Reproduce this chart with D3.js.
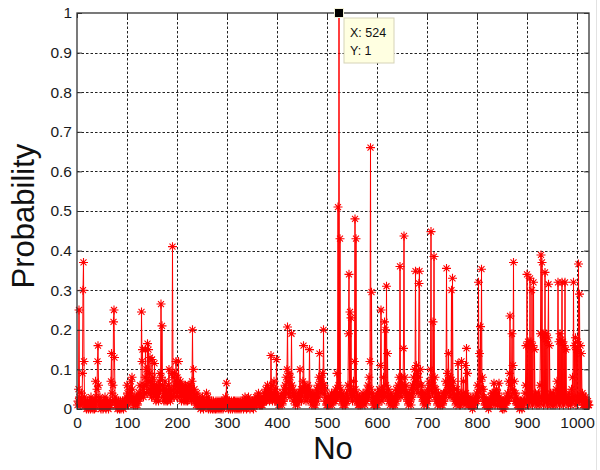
<!DOCTYPE html>
<html><head><meta charset="utf-8">
<script src="https://cdn.jsdelivr.net/npm/d3@7/dist/d3.min.js"></script>
<style>body{margin:0;background:#fff}svg{display:block}</style>
</head><body>
<svg id="chart" width="600" height="470"></svg>
<script>
// Probability for No = 1 .. 1024 (32 values per row)
const probability = [
.01,.02,.05,.25,.03,.01,.02,.01,.04,.02,.09,.30,.37,.12,.03,.01,.02,.01,0,.01,.02,.01,0,.01,.02,.01,0,.03,.01,.02,.01,0,
.01,.02,0,.01,.07,.02,.03,.05,.12,.16,.06,.02,.01,.03,.01,0,.01,.02,.01,0,.01,.02,.01,.03,.01,0,.02,.01,.02,.01,0,.01,
.01,.02,.01,.07,.14,.04,.02,.06,.22,.25,.13,.03,.02,.01,.02,.01,0,.01,.02,.01,0,.01,.02,0,.01,.01,.02,.01,0,.01,.02,.01,
.01,.02,.03,.06,.04,.02,.01,.03,.05,.02,.04,.07,.03,.08,.05,.02,.01,.03,.02,.01,.02,.01,.03,.02,.01,.03,.02,.04,.03,.06,.04,.03,
.245,.12,.15,.05,.03,.06,.04,.08,.15,.06,.1,.04,.165,.07,.15,.05,.09,.13,.04,.07,.03,.125,.05,.08,.04,.06,.115,.03,.05,.02,.04,.06,
.03,.05,.02,.07,.04,.09,.05,.265,.08,.21,.06,.03,.05,.02,.04,.07,.03,.02,.05,.03,.02,.04,.06,.10,.03,.05,.02,.04,.03,.09,.41,.08,
.05,.03,.09,.04,.06,.12,.07,.03,.08,.05,.12,.04,.06,.03,.07,.05,.02,.06,.04,.03,.05,.02,.04,.03,.06,.02,.03,.05,.02,.04,.03,.06,
.04,.06,.03,.05,.02,.07,.20,.04,.10,.03,.05,.02,.03,.01,.02,.04,.01,.02,.01,.03,.01,.02,0,.01,.02,.01,.03,.01,0,.02,.01,.02,
.01,.02,.04,.02,.01,.03,0,.01,.02,.01,0,.01,.02,.01,0,.01,.02,0,.01,.01,0,.02,.01,0,.01,.02,.01,0,.01,.02,.01,0,
.01,.02,.01,0,.01,.02,.01,.02,.03,.02,.065,.02,.01,.02,0,.01,.02,.01,0,.01,.02,.01,0,.01,.02,.01,.02,0,.01,.02,.01,0,
.01,.02,.01,0,.01,.02,.01,0,.01,.01,.02,.01,0,.01,.02,.03,.01,.02,0,.01,.02,.01,.03,.01,.02,0,.01,.02,.01,.01,.02,.01,
0,.01,.02,.01,.02,.03,.01,.02,.03,.02,.04,.02,.01,.02,.01,.03,.01,.02,.01,.02,.03,.02,.04,.02,.05,.03,.02,.04,.06,.03,.05,.04,
.02,.05,.03,.135,.03,.06,.02,.04,.03,.07,.03,.02,.05,.03,.125,.04,.02,.03,.01,.02,.02,.01,.03,.02,.03,.01,.02,.04,.02,.05,.03,.06,
.04,.08,.05,.10,.207,.07,.04,.09,.06,.03,.08,.05,.19,.06,.04,.05,.02,.04,.03,.03,.01,.02,.02,.03,.01,.03,.04,.02,.04,.10,.03,.05,
.02,.05,.04,.07,.16,.05,.06,.03,.05,.02,.04,.05,.03,.06,.04,.05,.15,.04,.02,.04,.03,.01,.03,.02,.03,.01,.02,.04,.01,.03,.05,.02,
.04,.06,.03,.08,.14,.05,.07,.04,.08,.05,.09,.06,.20,.06,.04,.05,.02,.03,.01,.02,.01,.03,.01,.02,.02,.01,.03,.02,.04,.01,.03,.02,
.03,.02,.04,.02,.05,.03,.04,.09,.03,.51,.06,1,.04,.43,.03,.05,.02,.04,.01,.03,.02,.01,.02,.03,.01,.02,.04,.02,.03,.06,.19,.34,
.05,.245,.04,.23,.03,.05,.02,.04,.07,.03,.12,.48,.05,.43,.04,.02,.03,.01,.02,.01,.03,.02,.01,.03,.02,.01,.02,.04,.02,.03,.02,.01,
.03,.02,.04,.03,.05,.06,.03,.08,.04,.12,.66,.05,.295,.04,.02,.03,.01,.02,.01,.03,.02,.01,.03,.02,.01,.04,.02,.05,.03,.04,.11,.25,
.04,.02,.05,.03,.08,.04,.22,.03,.20,.06,.31,.04,.14,.03,.05,.02,.03,.01,.02,.04,.02,.03,.01,.02,.01,.03,.02,.01,.03,.05,.02,.04,
.03,.06,.04,.08,.05,.36,.06,.03,.08,.04,.06,.05,.153,.437,.05,.08,.04,.06,.03,.04,.02,.03,.01,.02,.04,.02,.03,.01,.05,.03,.06,.04,
.08,.05,.1,.06,.348,.07,.11,.05,.09,.04,.08,.317,.348,.06,.1,.04,.06,.03,.04,.02,.03,.01,.02,.04,.02,.03,.01,.02,.05,.02,.04,.07,
.03,.06,.1,.448,.05,.08,.04,.22,.06,.385,.05,.08,.03,.05,.02,.03,.01,.02,.04,.02,.03,.01,.02,.01,.02,.03,.01,.02,.04,.02,.04,.03,
.07,.04,.355,.06,.09,.05,.14,.04,.07,.03,.08,.05,.30,.06,.33,.04,.07,.03,.05,.02,.03,.01,.02,.05,.02,.115,.03,.04,.01,.02,.01,.02,
.12,.03,.02,.04,.07,.02,.03,.01,.11,.04,.153,.02,.09,.03,.01,.02,.01,.02,.01,.03,.01,.02,0,.01,.01,.02,.01,.02,.03,.02,.04,.02,
.06,.03,.32,.05,.14,.04,.208,.07,.353,.05,.08,.03,.05,.02,.03,.01,.02,.01,.02,.01,.01,.02,0,.01,.01,.02,.01,.03,.02,.04,.02,.04,
.02,.065,.03,.01,.04,.02,.05,.03,.01,.04,.02,.065,.03,.01,.02,.02,.01,.02,0,.01,.02,0,.01,.02,.01,.02,.03,.02,.04,.02,.07,.03,
.09,.235,.06,.03,.07,.19,.05,.11,.37,.04,.07,.02,.04,.02,.03,.01,.02,.01,.01,.02,0,.01,.02,.01,.02,0,.01,.02,.01,.02,.02,.04,
.06,.16,.02,.34,.03,.17,.01,.16,.02,.33,.03,.17,.02,.30,.01,.16,.32,.03,.15,.02,.04,.02,.03,.01,.02,.02,.04,.01,.03,.06,.19,.389,
.02,.37,.03,.19,.01,.18,.02,.345,.03,.19,.02,.17,.01,.18,.315,.02,.16,.03,.04,.01,.03,.02,.02,.01,.04,.02,.03,.01,.02,.05,.02,.07,
.03,.32,.02,.17,.01,.19,.02,.175,.03,.32,.02,.17,.01,.16,.02,.32,.03,.15,.02,.03,.02,.02,.01,.04,.02,.03,.01,.02,.05,.02,.08,.03,
.32,.02,.16,.03,.18,.01,.15,.02,.17,.03,.366,.02,.29,.03,.16,.02,.14,.03,.04,.01,.03,.01,.02,.01,.03,.01,.02,.01,.01,.02,.01,.01
];
const xTicks = [0,100,200,300,400,500,600,700,800,900,1000];
const yTicks = [0,0.1,0.2,0.3,0.4,0.5,0.6,0.7,0.8,0.9,1];
const xDomain = [0,1024];
const yDomain = [0,1];
const xLabel = "No";
const yLabel = "Probability";
const tipNo = 524;
const tipProb = 1;

const svg = d3.select("#chart");
const L = 77, R = 589, T = 13, B = 409;
const x = d3.scaleLinear().domain(xDomain).range([L, R]);
const y = d3.scaleLinear().domain(yDomain).range([B, T]);
const font = "'Liberation Sans', Arial, Helvetica, sans-serif";

svg.append("rect").attr("width",600).attr("height",470).attr("fill","#fff");
svg.append("line").attr("x1",596.5).attr("x2",596.5).attr("y1",0).attr("y2",470)
  .attr("stroke","#e2e2e2").attr("stroke-width",1);

// grid
const grid = svg.append("g").attr("stroke","#222").attr("stroke-width",1).attr("stroke-dasharray","2.5,2");
grid.selectAll(".gx").data(xTicks.filter(d=>d>0)).join("line")
  .attr("x1",d=>Math.round(x(d))+0.5).attr("x2",d=>Math.round(x(d))+0.5).attr("y1",T).attr("y2",B);
grid.selectAll(".gy").data(yTicks.filter(d=>d>0&&d<1)).join("line")
  .attr("y1",d=>Math.round(y(d))+0.5).attr("y2",d=>Math.round(y(d))+0.5).attr("x1",L).attr("x2",R);

// data
const pts = probability.map((p,i)=>({no:i+1,p}));
svg.append("path").datum(pts)
  .attr("fill","none").attr("stroke","#ff0000").attr("stroke-width",1)
  .attr("d", d3.line().x(d=>x(d.no)).y(d=>y(d.p)));
const r = 4.5, rd = 3;
const star = `M${-r},0H${r}M0,${-r}V${r}M${-rd},${-rd}L${rd},${rd}M${-rd},${rd}L${rd},${-rd}`;
svg.append("g").attr("stroke","#ff0000").attr("stroke-width",1.1).attr("fill","none")
  .selectAll("path").data(pts).join("path")
  .attr("transform",d=>`translate(${x(d.no)},${y(d.p)})`).attr("d",star);

// axes
const fmt = d3.format("~g");
function styleAxis(g){
  g.select(".domain").remove();
  g.selectAll(".tick line").attr("stroke","#333");
  g.selectAll("text").attr("font-family",font).attr("font-size",15.5).attr("fill","#1a1a1a");
}
svg.append("g").attr("transform",`translate(0,${B})`)
  .call(d3.axisBottom(x).tickValues(xTicks).tickFormat(fmt).tickSizeInner(-5).tickSizeOuter(0).tickPadding(8))
  .call(styleAxis);
svg.append("g").attr("transform",`translate(0,${T})`)
  .call(d3.axisTop(x).tickValues(xTicks).tickFormat("").tickSizeInner(-5).tickSizeOuter(0))
  .call(styleAxis);
svg.append("g").attr("transform",`translate(${L},0)`)
  .call(d3.axisLeft(y).tickValues(yTicks).tickFormat(fmt).tickSizeInner(-5).tickSizeOuter(0).tickPadding(5))
  .call(styleAxis);
svg.append("g").attr("transform",`translate(${R},0)`)
  .call(d3.axisRight(y).tickValues(yTicks).tickFormat("").tickSizeInner(-5).tickSizeOuter(0))
  .call(styleAxis);
svg.append("rect").attr("x",L).attr("y",T).attr("width",R-L).attr("height",B-T)
  .attr("fill","none").attr("stroke","#333").attr("stroke-width",1.3);

// labels
svg.append("text").attr("x",(L+R)/2).attr("y",459).attr("text-anchor","middle")
  .attr("font-family",font).attr("font-size",31).attr("fill","#111").text(xLabel);
svg.append("text").attr("transform",`translate(34,216) rotate(-90)`).attr("text-anchor","middle")
  .attr("font-family",font).attr("font-size",31).attr("fill","#111").text(yLabel);

// data tip
const tx = x(tipNo), ty = y(tipProb);
svg.append("rect").attr("x",tx+5).attr("y",ty+5).attr("width",50).attr("height",45)
  .attr("fill","#ffffe1").attr("stroke","#d6d3b8").attr("stroke-width",1);
svg.append("rect").attr("x",tx-4.5).attr("y",ty-4.5).attr("width",9).attr("height",9)
  .attr("fill","#000").attr("stroke","#f4f2d8").attr("stroke-width",1);
const tip = svg.append("g").attr("font-family",font).attr("font-size",12.5).attr("fill","#111");
tip.append("text").attr("x",tx+11).attr("y",ty+24).text(`X: ${tipNo}`);
tip.append("text").attr("x",tx+11).attr("y",ty+42).text(`Y: ${tipProb}`);
</script>
</body></html>
